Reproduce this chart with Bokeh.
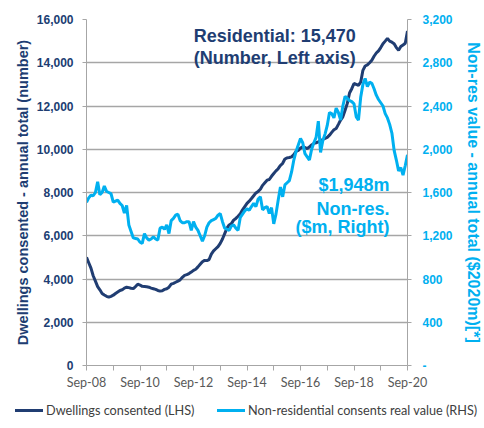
from bokeh.plotting import figure
from bokeh.layouts import column
from bokeh.models import (Range1d, LinearAxis, FixedTicker, NumeralTickFormatter,
                          Label, Div)
from bokeh.embed import file_html
from bokeh.resources import INLINE

# Monthly data, Sep-2008 .. Sep-2020
dwellings = [
    5000, 4750, 4500, 4150, 3900, 3650, 3500, 3330, 3260, 3200, 3160, 3200,
    3250, 3330, 3400, 3470, 3500, 3580, 3620, 3600, 3570, 3560, 3650, 3760,
    3720, 3660, 3650, 3640, 3620, 3580, 3550, 3520, 3470, 3440, 3460, 3520,
    3550, 3620, 3760, 3800, 3850, 3900, 3960, 4080, 4170, 4200, 4250, 4320,
    4400, 4450, 4560, 4680, 4800, 4860, 4850, 4900, 5150, 5300, 5400, 5500,
    5650, 5850, 6100, 6350, 6500, 6560, 6720, 6800, 6900, 7020, 7200, 7350,
    7500, 7600, 7720, 7850, 7980, 8050, 8150, 8330, 8450, 8570, 8600, 8750,
    8880, 9000, 9100, 9250, 9350, 9550, 9600, 9620, 9650, 9750, 9900, 9950,
    10050, 10110, 10080, 10030, 10100, 10200, 10270, 10300, 10340, 10400, 10450, 10500,
    10550, 10650, 10780, 10900, 10960, 11150, 11350, 11500, 11800, 12120, 12600, 12800,
    13040, 13000, 12960, 13100, 13650, 13850, 13900, 14000, 14120, 14300, 14450, 14550,
    14700, 14880, 15000, 15130, 15000, 14950, 14880, 14700, 14580, 14750, 14820, 14900,
    15470,
]
nonres = [
    1510, 1550, 1575, 1570, 1600, 1700, 1580, 1600, 1660, 1610, 1600, 1590,
    1510, 1520, 1530, 1500, 1480, 1410, 1480, 1300, 1240, 1180, 1175, 1170,
    1140, 1130, 1220, 1180, 1160, 1170, 1190, 1170, 1160, 1270, 1280, 1260,
    1300, 1220, 1340, 1360, 1390, 1400, 1340, 1320, 1320, 1330, 1330, 1250,
    1330, 1280, 1250, 1200, 1150, 1200, 1280, 1320, 1340, 1350, 1360, 1390,
    1405, 1330, 1270, 1260, 1250, 1290, 1300, 1270, 1250, 1370, 1400, 1430,
    1450, 1435, 1470, 1500, 1470, 1540, 1560, 1440, 1460, 1470, 1405, 1460,
    1310, 1400, 1530, 1650, 1560, 1670, 1690, 1710, 1790, 1900, 1980, 2040,
    2100, 2060, 1960, 1930, 1900, 2000, 2060, 2110, 2260, 1970, 2080, 2140,
    2220, 2340, 2330, 2290, 2380, 2340, 2270, 2400, 2490, 2470, 2450, 2440,
    2420, 2300, 2270, 2480, 2600, 2655, 2580, 2620, 2610, 2560, 2500, 2460,
    2430, 2400, 2330, 2290, 2230, 2150, 1990, 1900, 1800, 1830, 1760, 1850,
    1948,
]
months = list(range(len(dwellings)))

x_ticks = list(range(0, 145, 12))
x_tick_labels = ["Sep-08", "", "Sep-10", "", "Sep-12", "", "Sep-14", "",
                 "Sep-16", "", "Sep-18", "", "Sep-20"]
left_ticks = list(range(0, 16001, 2000))
right_ticks = list(range(0, 3201, 400))
series_names = ["Dwellings consented (LHS)", "Non-residential consents real value (RHS)"]

DARK = "#203D72"
LIGHT = "#00B0F0"
GRID = "#A6A6A6"
BOLD_FONT = "Liberation Sans"

p = figure(width=484, height=400, output_backend="svg", toolbar_location=None,
           x_range=Range1d(0, 144), y_range=Range1d(0, 16000),
           min_border_left=86, min_border_right=73, min_border_top=19,
           min_border_bottom=35)
p.outline_line_color = None
p.background_fill_color = "white"
p.border_fill_color = "white"
p.extra_y_ranges = {"nonres": Range1d(0, 3200)}

# x axis
xa = p.xaxis[0]
xa.ticker = FixedTicker(ticks=x_ticks)
xa.major_label_overrides = {t: l for t, l in zip(x_ticks, x_tick_labels)}
xa.major_label_text_font = "Lato"
xa.major_label_text_font_size = "12.5px"
xa.major_label_text_color = "#595959"
xa.major_label_standoff = 4
xa.major_tick_out = 5
xa.major_tick_in = 0
xa.minor_tick_out = 0
xa.minor_tick_in = 0
xa.axis_line_color = GRID
xa.major_tick_line_color = GRID

# left axis
ya = p.yaxis[0]
ya.ticker = FixedTicker(ticks=left_ticks)
ya.formatter = NumeralTickFormatter(format="0,0")
ya.major_label_text_font = BOLD_FONT
ya.major_label_text_font_style = "bold"
ya.major_label_text_font_size = "12px"
ya.major_label_text_color = DARK
ya.major_label_standoff = 9
ya.major_tick_out = 4
ya.major_tick_in = 0
ya.minor_tick_out = 0
ya.minor_tick_in = 0
ya.axis_line_color = GRID
ya.major_tick_line_color = GRID
ya.axis_label = "Dwellings consented - annual total (number)"
ya.axis_label_text_font = BOLD_FONT
ya.axis_label_text_font_style = "bold"
ya.axis_label_text_font_size = "14.5px"
ya.axis_label_text_color = DARK
ya.axis_label_standoff = 3

# right axis
ra = LinearAxis(y_range_name="nonres")
ra.ticker = FixedTicker(ticks=right_ticks)
ra.formatter = NumeralTickFormatter(format="0,0")
ra.major_label_overrides = {0: "-"}
ra.major_label_text_font = BOLD_FONT
ra.major_label_text_font_style = "bold"
ra.major_label_text_font_size = "12px"
ra.major_label_text_color = LIGHT
ra.major_label_standoff = 11
ra.major_tick_out = 4
ra.major_tick_in = 0
ra.minor_tick_out = 0
ra.minor_tick_in = 0
ra.axis_line_color = GRID
ra.major_tick_line_color = GRID
ra.axis_label = "Non-res value - annual total ($2020m)[*]"
ra.axis_label_text_font = BOLD_FONT
ra.axis_label_text_font_style = "bold"
ra.axis_label_text_font_size = "16px"
ra.axis_label_text_color = LIGHT
ra.axis_label_standoff = 9
p.add_layout(ra, "right")

p.xgrid.visible = False
p.ygrid.ticker = FixedTicker(ticks=left_ticks)
p.ygrid.grid_line_color = GRID
p.ygrid.grid_line_width = 1.5

p.line(months, dwellings, line_color=DARK, line_width=3)
p.line(months, nonres, line_color=LIGHT, line_width=3, y_range_name="nonres")


def add_label(x, y, text, color):
    p.add_layout(Label(x=x, y=y, text=text, text_align="right", text_baseline="alphabetic",
                       text_font=BOLD_FONT, text_font_style="bold", text_font_size="18px",
                       text_color=color))


add_label(120.8, 15214, "Residential: 15,470", DARK)
add_label(120.8, 14229, "(Number, Left axis)", DARK)
add_label(135.9, 8324, "$1,948m", LIGHT)
add_label(135.9, 7260, "Non-res.", LIGHT)
add_label(135.9, 6382, "($m, Right)", LIGHT)

# legend strip below the chart
def legend_entry(left, color, label):
    return (
        f'<div style="position:absolute;left:{left}px;top:9px;width:28px;height:3px;'
        f'background:{color};"></div>'
        f'<div style="position:absolute;left:{left + 31}px;top:2px;line-height:16px;'
        f'white-space:nowrap;">{label}</div>'
    )

legend_html = (
    '<div style="position:relative;width:484px;height:28px;font-family:Lato;'
    'font-size:12.7px;color:#404040;">'
    + legend_entry(15, DARK, series_names[0])
    + legend_entry(217, LIGHT, series_names[1])
    + '</div>'
)
lg = Div(text=legend_html, width=484, height=28, margin=0)

layout = column(p, lg, spacing=0)
open("out.html", "w").write(file_html(layout, INLINE))
